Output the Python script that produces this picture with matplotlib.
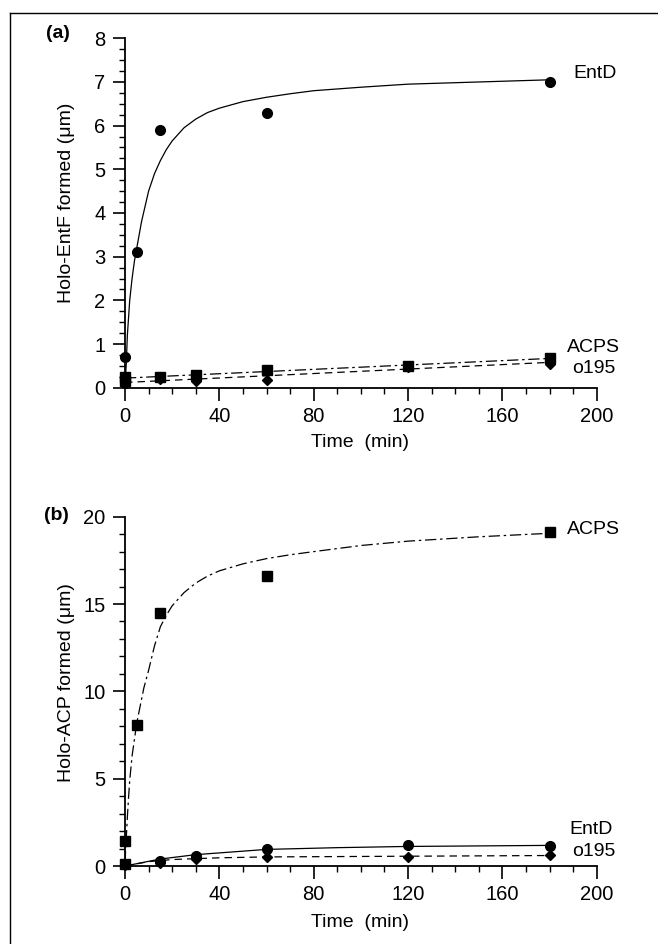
import matplotlib
matplotlib.use("Agg")
import matplotlib.pyplot as plt
from matplotlib.ticker import MultipleLocator
from matplotlib.lines import Line2D

plt.rcParams['font.family'] = ['Liberation Sans', 'DejaVu Sans']

# ---------------- Panel (a): Holo-EntF ----------------
a_entd_t = [0, 0, 5, 15, 60, 180]
a_entd_y = [0.7, 0.1, 3.1, 5.9, 6.3, 7.0]
a_acps_t = [0, 0, 15, 30, 60, 120, 180]
a_acps_y = [0.25, 0.15, 0.25, 0.28, 0.4, 0.5, 0.68]
a_o195_t = [0, 15, 30, 60, 120, 180]
a_o195_y = [0.1, 0.2, 0.15, 0.18, 0.48, 0.55]

a_entd_fit_t = [0, 0.5, 1, 2, 3, 4, 5, 7, 10, 12.5, 15, 17.5, 20, 25, 30, 35, 40, 50, 60, 70, 80, 100, 120, 150, 180]
a_entd_fit_y = [0.1, 0.5, 1.2, 2.0, 2.5, 2.9, 3.2, 3.8, 4.5, 4.9, 5.2, 5.45, 5.65, 5.95, 6.15, 6.3, 6.4, 6.55, 6.65, 6.73, 6.8, 6.88, 6.95, 7.0, 7.05]
a_acps_fit_t = [0, 180]
a_acps_fit_y = [0.22, 0.67]
a_o195_fit_t = [0, 180]
a_o195_fit_y = [0.12, 0.58]

# ---------------- Panel (b): Holo-ACP ----------------
b_acps_t = [0, 0, 5, 15, 60, 180]
b_acps_y = [1.45, 0.1, 8.1, 14.5, 16.6, 19.1]
b_entd_t = [0, 15, 30, 60, 120, 180]
b_entd_y = [0.1, 0.3, 0.57, 0.95, 1.2, 1.15]
b_o195_t = [0, 15, 30, 60, 120, 180]
b_o195_y = [0.05, 0.2, 0.4, 0.5, 0.5, 0.62]

b_acps_fit_t = [0, 0.5, 1, 1.5, 2, 3, 5, 8, 10, 12.5, 15, 17.5, 20, 25, 30, 35, 40, 50, 60, 70, 80, 100, 120, 150, 180]
b_acps_fit_y = [0.2, 1.5, 2.8, 3.9, 4.9, 6.3, 8.2, 10.2, 11.2, 12.6, 13.7, 14.35, 14.9, 15.65, 16.2, 16.6, 16.9, 17.3, 17.6, 17.82, 18.0, 18.35, 18.6, 18.85, 19.05]
b_entd_fit_t = [0, 15, 30, 60, 90, 120, 180]
b_entd_fit_y = [0.0, 0.4, 0.65, 0.95, 1.05, 1.12, 1.18]
b_o195_fit_t = [0, 10, 20, 40, 60, 120, 180]
b_o195_fit_y = [0.0, 0.25, 0.37, 0.47, 0.52, 0.56, 0.6]

SOLID = '-'
DASHDOT = (0, (9, 3, 2, 3))
DASHED = (0, (6, 4))

fig = plt.figure(figsize=(6.58, 9.44), dpi=100)
W, H = 658, 944

def px_axes(x0, x1, ytop, ybot):
    return fig.add_axes([x0 / W, 1 - ybot / H, (x1 - x0) / W, (ybot - ytop) / H])

axa = px_axes(125, 596.7, 38.3, 387.7)
axb = px_axes(125, 596.7, 516.7, 866)

def style(ax, ymax, ymajor, yminor, ylabel, xl_y, yl_y):
    ax.set_xlim(0, 200)
    ax.set_ylim(0, ymax)
    for s in ['top', 'right']:
        ax.spines[s].set_visible(False)
    for s in ['left', 'bottom']:
        ax.spines[s].set_linewidth(1.3)
    ax.xaxis.set_major_locator(MultipleLocator(40))
    ax.xaxis.set_minor_locator(MultipleLocator(10))
    ax.yaxis.set_major_locator(MultipleLocator(ymajor))
    ax.yaxis.set_minor_locator(MultipleLocator(yminor))
    ax.tick_params(which='major', direction='out', length=9, width=1.2, labelsize=14.5, pad=5)
    ax.tick_params(which='minor', direction='out', length=4, width=1.0)
    ax.set_xlabel('Time  (min)', fontsize=14)
    ax.set_ylabel(ylabel, fontsize=14)
    ax.xaxis.set_label_coords(0.498, xl_y)
    ax.yaxis.set_label_coords(-0.123, yl_y)

style(axa, 8, 1, 0.25, 'Holo-EntF formed (\u03bcm)', -0.158, 0.53)
style(axb, 20, 5, 1, 'Holo-ACP formed (\u03bcm)', -0.163, 0.524)
axa.xaxis.label.set_va('center')
axb.xaxis.label.set_va('center')
axa.yaxis.label.set_va('center')
axb.yaxis.label.set_va('center')

lw = 0.9
ms = 7
# panel a
axa.plot(a_entd_fit_t, a_entd_fit_y, color='black', lw=lw, linestyle=SOLID)
axa.plot(a_acps_fit_t, a_acps_fit_y, color='black', lw=lw, linestyle=DASHDOT)
axa.plot(a_o195_fit_t, a_o195_fit_y, color='black', lw=lw, linestyle=DASHED)
axa.plot(a_entd_t, a_entd_y, 'o', color='black', ms=ms, clip_on=False)
axa.plot(a_acps_t, a_acps_y, 's', color='black', ms=ms, clip_on=False)
axa.plot(a_o195_t, a_o195_y, 'D', color='black', ms=5.5, clip_on=False)

# panel b
axb.plot(b_acps_fit_t, b_acps_fit_y, color='black', lw=lw, linestyle=DASHDOT)
axb.plot(b_entd_fit_t, b_entd_fit_y, color='black', lw=lw, linestyle=SOLID)
axb.plot(b_o195_fit_t, b_o195_fit_y, color='black', lw=lw, linestyle=DASHED)
axb.plot(b_acps_t, b_acps_y, 's', color='black', ms=ms, clip_on=False)
axb.plot(b_entd_t, b_entd_y, 'o', color='black', ms=ms, clip_on=False)
axb.plot(b_o195_t, b_o195_y, 'D', color='black', ms=5.5, clip_on=False)

# series labels
fs = 14
def flabel(x, y, s):
    fig.text(x / W, 1 - y / H, s, fontsize=fs, va='center')

flabel(573, 74, 'EntD')
flabel(567, 347, 'ACPS')
flabel(572, 368, 'o195')
flabel(567, 530, 'ACPS')
flabel(569, 830, 'EntD')
flabel(572, 852, 'o195')

# panel letters
fig.text(46 / W, 1 - 33 / H, '(a)', fontsize=14, fontweight='bold', va='center')
fig.text(44 / W, 1 - 515 / H, '(b)', fontsize=14, fontweight='bold', va='center')

# frame lines
fig.add_artist(Line2D([10 / W, 1.0], [1 - 13 / H, 1 - 13 / H], transform=fig.transFigure, color='black', lw=1.0))
fig.add_artist(Line2D([10 / W, 10 / W], [0.0, 1 - 13 / H], transform=fig.transFigure, color='black', lw=1.0))

fig.savefig('out.png', dpi=100)
